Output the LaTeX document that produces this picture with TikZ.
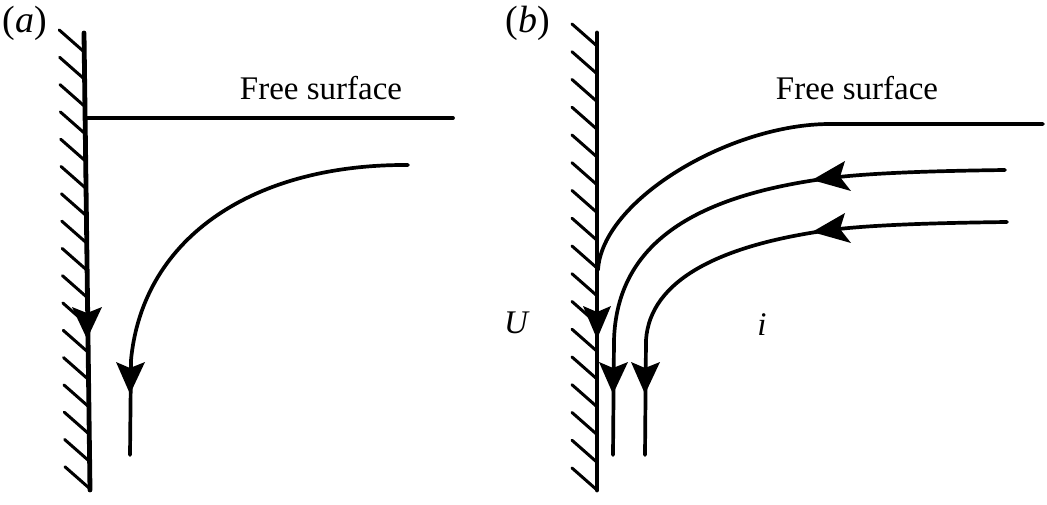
\documentclass[tikz,border=0pt]{standalone}
\usepackage{fontspec}
\setmainfont{Liberation Serif}
\begin{document}
\begin{tikzpicture}[x=1pt,y=-1pt,
  wall/.style={line width=4.8pt,line cap=round},
  hatch/.style={line width=3pt,line cap=round},
  stream/.style={line width=3.7pt,line cap=round,line join=round},
  lbl/.style={inner sep=0pt,font=\fontsize{33}{36}\selectfont},
  plbl/.style={inner sep=0pt,font=\fontsize{38}{40}\selectfont}]
\useasboundingbox (0,0) rectangle (1047,505);
\fill[white] (0,0) rectangle (1047,505);
% ---------- panel (a)
\node[plbl] (la) at (25,23) {(\textit{a})};
\draw[wall] (84,33) -- (90,490);
\foreach \k in {0,...,16}{
  \pgfmathsetmacro{\ye}{52+27.3*\k}
  \pgfmathsetmacro{\xe}{84+6*(\ye-33)/457}
  \draw[hatch] (\xe-25,\ye-22) -- (\xe,\ye);
}
\draw[stream] (87,118) -- (453,118);
\node[lbl] (fsa) at (321,88) {Free surface};
\draw[stream] (408,165) .. controls (255,164) and (143,236) .. (131,360) -- (130,455);
% arrowheads (a)
\fill (72,307) -- (87,339) -- (102,307) -- (87,313) -- cycle;
\fill (116,362) -- (130,394) -- (145,362) -- (130,368) -- cycle;
% ---------- panel (b)
\node[plbl] (lb) at (528,23) {(\textit{b})};
\draw[wall] (597,33) -- (597,490);
\foreach \k in {0,...,16}{
  \pgfmathsetmacro{\ye}{46+27.75*\k}
  \draw[hatch] (597-25,\ye-22) -- (597,\ye);
}
\draw[stream] (1043,124) -- (830,124) .. controls (730,124) and (602,200) .. (598,270);
\node[lbl] (fsb) at (857,88) {Free surface};
\draw[stream] (1005,170) .. controls (930,171) and (870,173) .. (830,178)
  .. controls (700,195) and (617,240) .. (614,340) -- (613,455);
\draw[stream] (1007,222) .. controls (930,223) and (870,225) .. (830,230)
  .. controls (720,245) and (650,280) .. (646,340) -- (645,455);
% arrowheads (b)
\fill (583,306) -- (597,339) -- (611,306) -- (597,312) -- cycle;
\fill (599,362) -- (613,394) -- (628,362) -- (613,368) -- cycle;
\fill (631,362) -- (645,394) -- (660,362) -- (645,368) -- cycle;
\fill (845,161) -- (812,180) -- (851,191) -- (840,177) -- cycle;
\fill (845,213) -- (812,232) -- (851,243) -- (840,229) -- cycle;
\node[lbl] (U) at (517,323) {\textit{U}};
\node[lbl] (i) at (762,325) {\textit{i}};
\end{tikzpicture}
\end{document}
